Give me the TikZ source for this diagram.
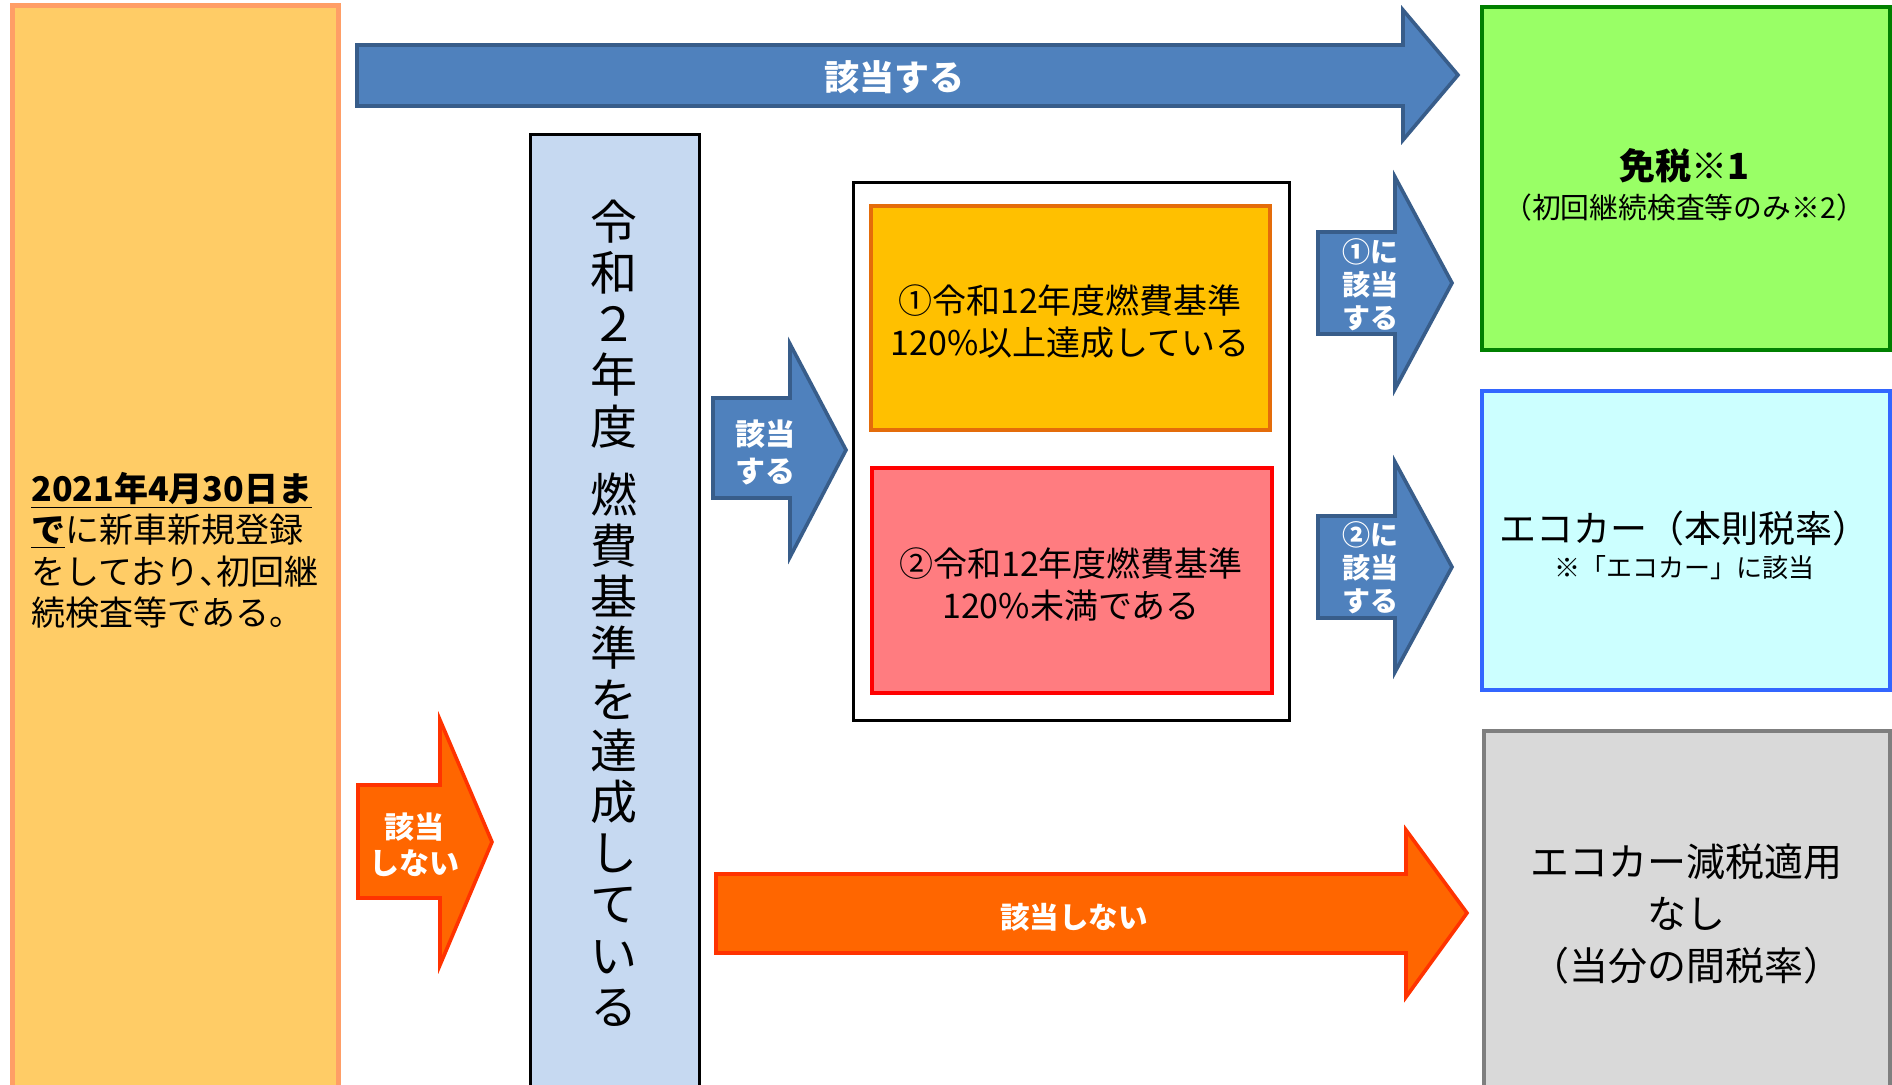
\documentclass[tikz,border=0pt]{standalone}
\usepackage{fontspec}
\setmainfont{Noto Sans CJK JP}

\definecolor{startfill}{HTML}{FFCC66}
\definecolor{startline}{HTML}{FF9E66}
\definecolor{arrowblue}{HTML}{4F81BD}
\definecolor{arrowblueline}{HTML}{385D8A}
\definecolor{stdfill}{HTML}{C6D9F1}
\definecolor{onefill}{HTML}{FFC000}
\definecolor{oneline}{HTML}{E46C0A}
\definecolor{twofill}{HTML}{FF7C80}
\definecolor{exemptfill}{HTML}{99FF66}
\definecolor{exemptline}{HTML}{008000}
\definecolor{ecofill}{HTML}{CCFFFF}
\definecolor{ecoline}{HTML}{3366FF}
\definecolor{nonefill}{HTML}{D9D9D9}
\definecolor{noneline}{HTML}{7F7F7F}
\definecolor{arroworange}{HTML}{FF6600}
\definecolor{arroworangeline}{HTML}{FF3300}

\tikzset{
  bluearrow/.style={fill=arrowblue, draw=arrowblueline, line width=1.8pt, line join=miter},
  orangearrow/.style={fill=arroworange, draw=arroworangeline, line width=1.8pt, line join=miter},
  arrowtext/.style={text=white, font=\bfseries, align=center, inner sep=0pt},
  boxtext/.style={align=center, inner sep=0pt},
}

\begin{document}
\begin{tikzpicture}[x=0.5pt,y=-0.5pt]
\useasboundingbox (0,0) rectangle (1892,1085);
\clip (0,0) rectangle (1892,1085);

% starting condition
\draw[fill=startfill, draw=startline, line width=2.5pt] (12,6) rectangle (338,1110);
\node[boxtext, align=left, anchor=north west, font=\fontsize{17}{20.6}\selectfont] (start) at (31,472)
  {\underline{\textbf{2021年4月30日ま}}\\
   \underline{\textbf{で}}に新車新規登録\\
   をしており\makebox[0.5em][l]{、}初回継\\
   続検査等である。};

% top arrow
\draw[bluearrow] (357,45) -- (1403,45) -- (1403,10) -- (1458,75) -- (1403,140) -- (1403,106) -- (357,106) -- cycle;
\node[arrowtext, font=\bfseries\fontsize{17.5}{20}\selectfont] (yes) at (894,77) {該当する};

% fuel standard column
\draw[fill=stdfill, draw=black, line width=1.5pt] (530,135) rectangle (699,1110);
\node[boxtext, font=\fontsize{23.5}{25.6}\selectfont] (std) at (614,613)
  {令\\和\\２\\年\\度\\[8.5pt]燃\\費\\基\\準\\を\\達\\成\\し\\て\\い\\る};

% not applicable, small
\draw[orangearrow] (358,785) -- (440,785) -- (440,720) -- (492,842) -- (440,965) -- (440,898) -- (358,898) -- cycle;
\node[arrowtext, font=\bfseries\fontsize{15}{18}\selectfont] (no) at (414,845) {該当\\しない};

% applicable, middle
\draw[bluearrow] (713,398) -- (790,398) -- (790,344) -- (846,450) -- (790,557) -- (790,498) -- (713,498) -- cycle;
\node[arrowtext, font=\bfseries\fontsize{15}{18.5}\selectfont] (stdyes) at (765,452) {該当\\する};

% 2030 standard cases
\draw[draw=black, line width=1.5pt] (853,183) rectangle (1289,720);
\draw[fill=onefill, draw=oneline, line width=2pt] (871,206) rectangle (1270,430);
\node[boxtext, font=\fontsize{17}{21}\selectfont] (one) at (1070,322)
  {①令和12年度燃費基準\\120\%以上達成している};
\draw[fill=twofill, draw=red, line width=2pt] (872,468) rectangle (1272,693);
\node[boxtext, font=\fontsize{17}{21}\selectfont] (two) at (1071,584)
  {②令和12年度燃費基準\\120\%未満である};

% case arrows
\draw[bluearrow] (1318,232) -- (1395,232) -- (1395,177) -- (1452,283) -- (1395,389) -- (1395,334) -- (1318,334) -- cycle;
\node[arrowtext, font=\bfseries\fontsize{14}{16.5}\selectfont] (oneyes) at (1370,285) {①に\\該当\\する};
\draw[bluearrow] (1318,516) -- (1395,516) -- (1395,462) -- (1452,567) -- (1395,672) -- (1395,618) -- (1318,618) -- cycle;
\node[arrowtext, font=\bfseries\fontsize{14}{16.5}\selectfont] (twoyes) at (1370,568) {②に\\該当\\する};

% not applicable, long
\draw[orangearrow] (716,874) -- (1406,874) -- (1406,830) -- (1467,913) -- (1406,997) -- (1406,953) -- (716,953) -- cycle;
\node[arrowtext, font=\bfseries\fontsize{14.75}{17}\selectfont] (stdno) at (1074,917) {該当しない};

% results
\draw[fill=exemptfill, draw=exemptline, line width=2pt] (1482,7) rectangle (1890,350);
\node[boxtext, font=\bfseries\fontsize{18}{20}\selectfont] (exempt) at (1684,166) {免税※1};
\node[boxtext, font=\fontsize{14.4}{16}\selectfont] (exemptnote) at (1684,208) {（初回継続検査等のみ※2）};

\draw[fill=ecofill, draw=ecoline, line width=2pt] (1482,391) rectangle (1890,690);
\node[boxtext, font=\fontsize{18.5}{20}\selectfont] (eco) at (1684,528) {エコカー（本則税率）};
\node[boxtext, font=\fontsize{13}{16}\selectfont] (econote) at (1684,568) {※「エコカー」に該当};

\draw[fill=nonefill, draw=noneline, line width=2pt] (1484,731) rectangle (1890,1110);
\node[boxtext, font=\fontsize{19.5}{26}\selectfont] (none) at (1686,914)
  {エコカー減税適用\\なし\\（当分の間税率）};
\end{tikzpicture}
\end{document}
